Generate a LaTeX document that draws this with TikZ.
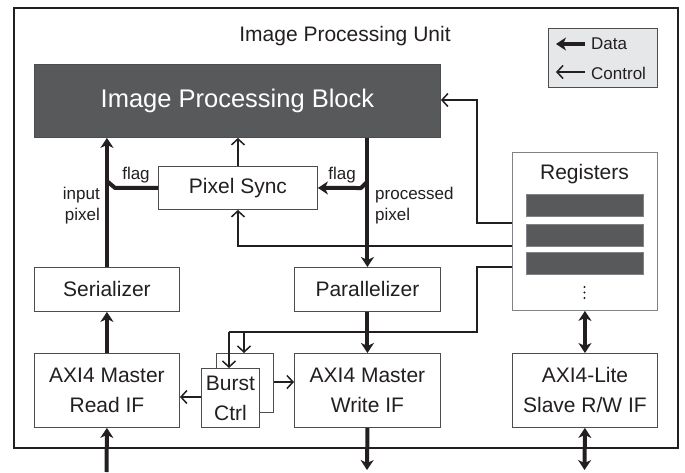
\documentclass[tikz,border=0pt]{standalone}
\usepackage{fontspec}
\setmainfont{Liberation Sans}
\usetikzlibrary{arrows.meta}
\definecolor{dk}{HTML}{58595B}
\definecolor{ink}{HTML}{231F20}
\definecolor{bord}{HTML}{4D4D4F}
\definecolor{lbord}{HTML}{808285}
\definecolor{lg}{HTML}{E6E7E8}
\begin{document}
\begin{tikzpicture}[x=1pt,y=-1pt,
  box/.style={draw=bord, line width=0.9pt, fill=white, text=ink, inner sep=0pt, anchor=north west, align=center, font=\fontsize{21}{30}\selectfont},
  lbl/.style={text=ink, inner sep=0pt, font=\fontsize{17}{21}\selectfont},
  bar/.style={draw=lbord, line width=0.6pt, fill=dk, inner sep=0pt, anchor=north west, minimum width=117pt, minimum height=22pt},
  dotmark/.style={fill=ink, circle, inner sep=0pt, minimum size=2.2pt},
  data/.style={draw=ink, line width=4pt, -{Stealth[length=10pt,width=13pt,inset=3pt]}},
  dline/.style={draw=ink, line width=4pt},
  both/.style={draw=ink, line width=4pt, {Stealth[length=10pt,width=13pt,inset=3pt]}-{Stealth[length=10pt,width=13pt,inset=3pt]}},
  ctrl/.style={draw=ink, line width=1.5pt, -{Straight Barb[length=6pt,width=13pt]}},
  cline/.style={draw=ink, line width=1.5pt},
]
\useasboundingbox (0,0) rectangle (685,472);
\fill[white] (0,0) rectangle (685,472);
% outer unit
\node[draw=ink, line width=2pt, inner sep=0pt, anchor=north west, minimum width=664pt, minimum height=440pt] (ipu) at (13,7) {};
\node[lbl, font=\fontsize{21}{25}\selectfont] (title) at (345,36) {Image Processing Unit};
% legend
\node[draw=bord, line width=0.9pt, fill=lg, inner sep=0pt, anchor=north west, minimum width=109pt, minimum height=59pt] (leg) at (548,28) {};
\coordinate (ld1) at (585,44); \coordinate (ld2) at (556,44);
\coordinate (lc1) at (585,72); \coordinate (lc2) at (556,72);
\draw[data] (ld1) -- (ld2);
\draw[ctrl] (lc1) -- (lc2);
\node[lbl, anchor=west] (ldata) at (591,44) {Data};
\node[lbl, anchor=west] (lctrl) at (591,73) {Control};
% blocks
\node[box, draw=bord, fill=dk, text=white, minimum width=406pt, minimum height=73pt, font=\fontsize{25.5}{30}\selectfont] (ipb) at (34,64) {Image Processing Block};
\node[box, minimum width=159pt, minimum height=43pt] (psync) at (158,166) {Pixel Sync};
\node[box, minimum width=145pt, minimum height=44pt] (ser) at (34,267) {Serializer};
\node[box, minimum width=146pt, minimum height=44pt] (par) at (294,267) {Parallelizer};
\node[box, draw=lbord, minimum width=145pt, minimum height=158pt] (regs) at (512,152) {};
\node[lbl, font=\fontsize{21}{25}\selectfont] (regt) at (584.5,174) {Registers};
\node[bar] (bar1) at (526,194) {};
\node[bar] (bar2) at (526,224) {};
\node[bar] (bar3) at (526,252) {};
\node[dotmark] (d1) at (584.5,287) {};
\node[dotmark] (d2) at (584.5,292.5) {};
\node[dotmark] (d3) at (584.5,298) {};
\node[box, minimum width=145pt, minimum height=74pt] (rdif) at (34,353) {AXI4 Master\\Read IF};
\node[box, minimum width=146pt, minimum height=74pt] (wrif) at (294,353) {AXI4 Master\\Write IF};
\node[box, minimum width=145pt, minimum height=74pt] (lite) at (512,353) {AXI4-Lite\\Slave R/W IF};
\node[box, minimum width=57pt, minimum height=59pt] (bback) at (216,353) {};
\node[box, minimum width=58pt, minimum height=59pt] (burst) at (201,368) {Burst\\Ctrl};
% data path
\coordinate (inbot) at (106.5,472);
\coordinate (outbot) at (367,470);
\coordinate (litebot) at (584.5,470);
\draw[data] (inbot) -- (rdif.south);
\draw[data] (rdif.north) -- (ser.south);
\draw[data] (ser.north) -- (ser.north |- ipb.south);
\draw[data] (par.north |- ipb.south) -- (par.north);
\draw[data] (par.south) -- (wrif.north);
\draw[data] (wrif.south) -- (outbot);
\draw[both] (regs.south) -- (lite.north);
\draw[both] (lite.south) -- (litebot);
% flags
\draw[dline, line join=round] (psync.west) -- ++(-43,0) -- ++(-7,-6);
\coordinate (pf) at (367,182);
\draw[data, line join=round] (pf) -- ++(-6,6) -- (psync.east);
\node[lbl] (flagl) at (136,175) {flag};
\node[lbl] (flagr) at (342,175) {flag};
\node[lbl, align=right, anchor=east] (inlbl) at (100,206) {input\\pixel};
\node[lbl, align=left, anchor=west] (prlbl) at (375,206) {processed\\pixel};
% control
\draw[ctrl] (psync.north) -- (psync.north |- ipb.south);
\coordinate (r1) at (512,223);
\coordinate (r2) at (512,246);
\coordinate (r3) at (512,267);
\draw[ctrl] (r1) -- (477,223) -- (477,100) -- (ipb.east |- 0,100);
\draw[ctrl] (r2) -- (psync.south |- r2) -- (psync.south);
\draw[cline] (r3) -- (477,267) -- (477,332) -- (229,332);
\draw[ctrl] (229,332) -- (229,368) ;
\draw[ctrl] (244,332) -- (244,353);
\draw[ctrl] (burst.west |- 0,397) -- (rdif.east |- 0,397);
\draw[ctrl] (bback.east |- 0,382) -- (wrif.west |- 0,382);
\end{tikzpicture}
\end{document}
